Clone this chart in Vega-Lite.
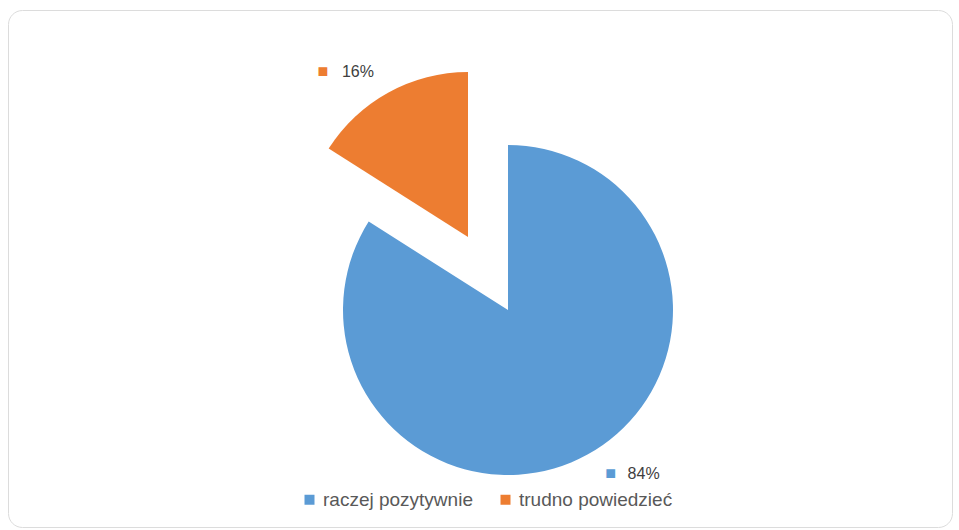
{
  "$schema": "https://vega.github.io/schema/vega-lite/v6.json",
  "width": 944,
  "height": 517,
  "autosize": "none",
  "padding": {"left": 8, "top": 10, "right": 7, "bottom": 3},
  "background": "white",
  "view": {"stroke": "#dcdcdc", "strokeWidth": 1, "cornerRadius": 14, "fill": "white"},
  "config": {
    "view": {"stroke": "#dcdcdc", "strokeWidth": 1, "cornerRadius": 14},
    "font": "Liberation Sans"
  },
  "data": {
    "values": [
      {"category": "raczej pozytywnie", "value": 84, "label": "84%"},
      {"category": "trudno powiedzieć", "value": 16, "label": "16%"}
    ]
  },
  "encoding": {
    "theta": {"field": "value", "type": "quantitative", "stack": true},
    "order": {"field": "category", "type": "ordinal", "sort": "ascending"},
    "detail": {"field": "category", "type": "nominal"}
  },
  "layer": [
    {
      "mark": {"type": "arc", "outerRadius": 165, "xOffset": 28, "yOffset": 41.5},
      "encoding": {
        "color": {
          "field": "category", "type": "nominal",
          "scale": {"domain": ["raczej pozytywnie", "trudno powiedzieć"], "range": ["#5B9BD5", "#ED7D31"]},
          "legend": {
            "orient": "none", "legendX": 292, "legendY": 480, "direction": "horizontal",
            "title": null, "symbolType": "square", "symbolSize": 100,
            "labelFontSize": 19, "labelColor": "#595959", "labelOffset": 4,
            "columnPadding": 23, "symbolStrokeWidth": 0
          }
        },
        "opacity": {"condition": {"test": "datum.category === 'raczej pozytywnie'", "value": 1}, "value": 0}
      }
    },
    {
      "mark": {"type": "arc", "outerRadius": 165, "xOffset": -12, "yOffset": -31.5},
      "encoding": {
        "color": {"field": "category", "type": "nominal"},
        "opacity": {"condition": {"test": "datum.category === 'trudno powiedzieć'", "value": 1}, "value": 0}
      }
    },
    {
      "mark": {"type": "text", "radius": 186, "xOffset": 28, "yOffset": 41.5, "dx": 13, "dy": 1, "fontSize": 18, "baseline": "middle", "align": "center"},
      "encoding": {
        "text": {"value": "■"},
        "color": {"field": "category", "type": "nominal", "legend": null},
        "opacity": {"condition": {"test": "datum.category === 'raczej pozytywnie'", "value": 1}, "value": 0}
      }
    },
    {
      "mark": {"type": "text", "radius": 186, "xOffset": 28, "yOffset": 41.5, "dx": 30, "dy": 1, "fontSize": 16, "baseline": "middle", "align": "left", "color": "#404040"},
      "encoding": {
        "text": {"field": "label", "type": "nominal"},
        "opacity": {"condition": {"test": "datum.category === 'raczej pozytywnie'", "value": 1}, "value": 0}
      }
    },
    {
      "mark": {"type": "text", "radius": 272, "xOffset": 28, "yOffset": 41.5, "dx": -54, "fontSize": 18, "baseline": "middle", "align": "center"},
      "encoding": {
        "text": {"value": "■"},
        "color": {"field": "category", "type": "nominal", "legend": null},
        "opacity": {"condition": {"test": "datum.category === 'trudno powiedzieć'", "value": 1}, "value": 0}
      }
    },
    {
      "mark": {"type": "text", "radius": 272, "xOffset": 28, "yOffset": 41.5, "dx": -35, "fontSize": 16, "baseline": "middle", "align": "left", "color": "#404040"},
      "encoding": {
        "text": {"field": "label", "type": "nominal"},
        "opacity": {"condition": {"test": "datum.category === 'trudno powiedzieć'", "value": 1}, "value": 0}
      }
    }
  ]
}
